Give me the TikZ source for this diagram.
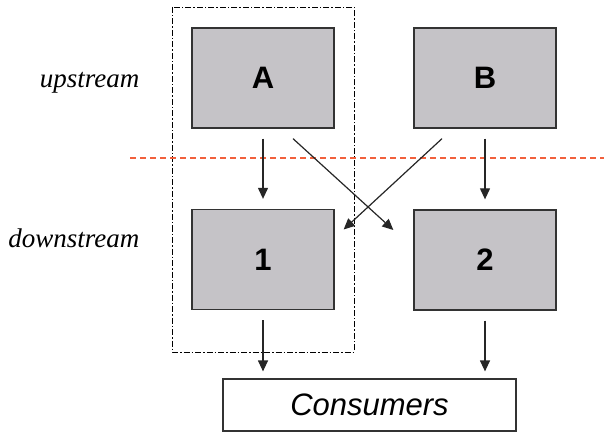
\documentclass[tikz,border=0pt]{standalone}
\usepackage{fontspec}
\setmainfont{Liberation Serif}
\setsansfont{Liberation Sans}
\usetikzlibrary{arrows.meta,positioning}
\definecolor{firmgray}{HTML}{C5C3C7}
\definecolor{edgegray}{HTML}{333333}
\definecolor{tierline}{HTML}{F2603C}
\tikzset{firmbox/.style={draw=edgegray,fill=firmgray,line width=1.3pt,minimum width=142pt,minimum height=100pt,font=\sffamily\bfseries\fontsize{31}{31}\selectfont},arr/.style={-{Triangle[length=11pt,width=10pt]},line width=1.2pt,draw=black!85,shorten <=10pt,shorten >=10pt},tier/.style={anchor=east,font=\itshape\fontsize{27}{27}\selectfont}}

\begin{document}
\begin{tikzpicture}[x=1pt,y=1pt]
\useasboundingbox (0,0) rectangle (604,434);
\draw[black,line width=0.7pt,dash pattern=on 6pt off 2pt on 1.5pt off 2pt] (172,427) rectangle (354,82);
\draw[draw=tierline,line width=1.2pt,dash pattern=on 6pt off 4pt] (130,276)--(604,276);
\node[tier] (up) at (143,351){upstream};
\node[tier] (down) at (143,196){downstream};
\node[firmbox] (A) at (263,356){A};
\node[firmbox] (B) at (485,356){B};
\node[firmbox] (1) at (263,174.5){1};
\node[firmbox] (2) at (485,174){2};
\node[draw=edgegray,fill=white,line width=1.2pt,minimum width=293pt,minimum height=52pt,font=\sffamily\itshape\fontsize{31}{31}\selectfont] (cons) at (369.5,29){Consumers};
\draw[arr] (A.south)--(1.north);
\draw[arr] (B.south)--(2.north);
\draw[arr,shorten <=0pt,shorten >=0pt] ([xshift=30pt,yshift=-10pt]A.south)--([xshift=-20pt,yshift=30pt]2.west);
\draw[arr,shorten <=0pt,shorten >=0pt] ([xshift=-43pt,yshift=-10pt]B.south)--([xshift=9pt,yshift=30pt]1.east);
\draw[arr,shorten >=7pt] (1.south)--(1.south |- cons.north);
\draw[arr,shorten >=7pt] (2.south)--(2.south |- cons.north);
\end{tikzpicture}
\end{document}
